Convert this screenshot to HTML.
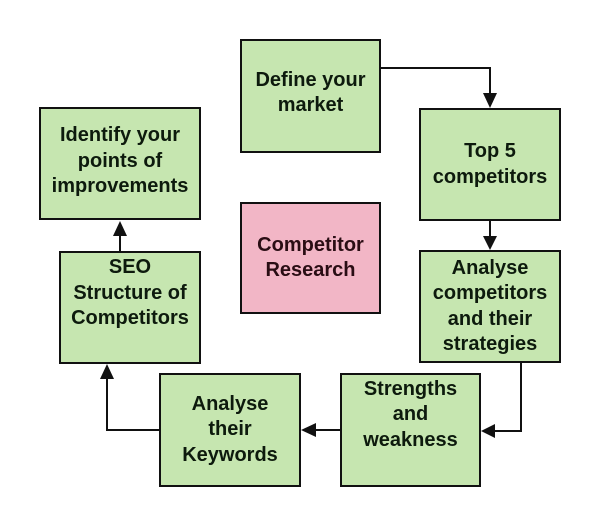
<!DOCTYPE html>
<html><head><style>
body{margin:0;width:600px;height:527px;background:#fff;position:relative;overflow:hidden;font-family:"Liberation Sans",Arial,sans-serif}
.b{position:absolute;box-sizing:border-box;border:2px solid #111;background:#c6e6b0;display:flex;align-items:center;justify-content:center;text-align:center;font-weight:bold;font-size:20px;line-height:25.5px;color:#0d1a0d}
.p{background:#f2b6c6;color:#2a0d14}
svg{position:absolute;left:0;top:0}
</style></head><body>
<div class="b" style="left:240px;top:39px;width:141px;height:114px;padding-bottom:6px">Define your<br>market</div>
<div class="b" style="left:419px;top:108px;width:142px;height:113px">Top 5<br>competitors</div>
<div class="b" style="left:419px;top:250px;width:142px;height:113px">Analyse<br>competitors<br>and their<br>strategies</div>
<div class="b" style="left:340px;top:373px;width:141px;height:114px;padding-bottom:30px">Strengths<br>and<br>weakness</div>
<div class="b" style="left:159px;top:373px;width:142px;height:114px">Analyse<br>their<br>Keywords</div>
<div class="b" style="left:59px;top:251px;width:142px;height:113px;padding-bottom:28px">SEO<br>Structure of<br>Competitors</div>
<div class="b" style="left:39px;top:107px;width:162px;height:113px;padding-bottom:4px">Identify your<br>points of<br>improvements</div>
<div class="b p" style="left:240px;top:202px;width:141px;height:112px">Competitor<br>Research</div>
<svg width="600" height="527">
<g stroke="#111" stroke-width="2" fill="none">
<polyline points="381,68 490,68 490,96"/>
<line x1="490" y1="221" x2="490" y2="238"/>
<polyline points="521,363 521,431 492,431"/>
<line x1="340" y1="430" x2="314" y2="430"/>
<polyline points="159,430 107,430 107,378"/>
<line x1="120" y1="251" x2="120" y2="236"/>
</g>
<g fill="#111">
<polygon points="483,93 497,93 490,108"/>
<polygon points="483,236 497,236 490,250"/>
<polygon points="495,424 495,438 481,431"/>
<polygon points="316,423 316,437 301,430"/>
<polygon points="100,379 114,379 107,364"/>
<polygon points="113,236 127,236 120,221"/>
</g>
</svg>
</body></html>
